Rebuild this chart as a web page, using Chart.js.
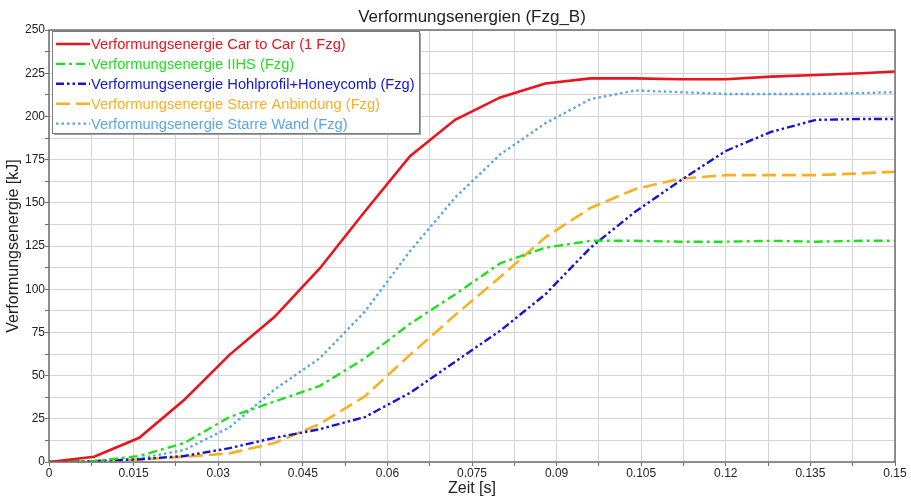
<!DOCTYPE html>
<html>
<head>
<meta charset="utf-8">
<script src="https://cdn.jsdelivr.net/npm/chart.js@4.4.1/dist/chart.umd.min.js"></script>
<style>
  html, body { margin: 0; padding: 0; background: #fff; }
  #wrap { width: 911px; height: 498px; }
</style>
</head>
<body>
<div id="wrap"><canvas id="energyChart" width="911" height="498"></canvas></div>
<script>
// Zeitpunkte [s]
const times = [0, 0.008, 0.016, 0.024, 0.032, 0.04, 0.048, 0.056, 0.064, 0.072, 0.08,
               0.088, 0.096, 0.104, 0.112, 0.12, 0.128, 0.136, 0.144, 0.15];

// Verformungsenergie [kJ]
const carToCar   = [0, 3, 14, 36, 62, 84, 112, 145, 177, 198, 211, 219, 222, 222, 221.5, 221.5, 223, 224, 225, 226];
const iihs       = [0, 0.5, 3.5, 11, 26, 35, 44, 60, 80, 97, 115, 124, 128, 128, 127.5, 127.5, 128, 127.5, 128, 128];
const hohlprofil = [0, 0.5, 1.5, 3.5, 8, 14, 19, 26, 40, 58, 76, 97, 124, 145, 163, 180, 191, 198, 198.5, 198.5];
const anbindung  = [0, 0.5, 1.5, 3, 5, 11, 22, 38, 62, 85, 107, 130, 147, 158, 164, 166, 166, 166, 167, 168];
const wand       = [0, 0.5, 2, 7, 20, 42, 60, 87, 122, 153, 178, 196, 210, 215, 214, 213, 213, 213, 213.5, 214];

const xTickLabels = ["0", "0.015", "0.03", "0.045", "0.06", "0.075", "0.09", "0.105", "0.12", "0.135", "0.15"];
const yTickLabels = ["0", "25", "50", "75", "100", "125", "150", "175", "200", "225", "250"];

const chartTitle = "Verformungsenergien (Fzg_B)";

const toPoints = arr => arr.map((v, i) => ({ x: times[i], y: v }));

const fontFam = "'Liberation Sans', Arial, sans-serif";

// Titel, zentriert über der Zeichenfläche
const plotTitle = {
  id: 'plotTitle',
  afterDraw(chart) {
    const { ctx, chartArea: a } = chart;
    ctx.save();
    ctx.font = "17px " + fontFam;
    ctx.fillStyle = '#222';
    ctx.textAlign = 'center';
    ctx.textBaseline = 'alphabetic';
    ctx.fillText(chartTitle, (a.left + a.right) / 2, 22);
    ctx.restore();
  }
};

// Legende innerhalb des Diagramms, oben links
const innerLegend = {
  id: 'innerLegend',
  afterDatasetsDraw(chart) {
    const ctx = chart.ctx;
    const area = chart.chartArea;
    const x0 = area.left + 3, y0 = area.top + 1, w = 367, h = 102;
    ctx.save();
    ctx.fillStyle = '#a0a0a0';
    ctx.fillRect(x0 + 2, y0 + 2, w, h);
    ctx.fillStyle = '#ffffff';
    ctx.fillRect(x0, y0, w, h);
    ctx.strokeStyle = '#7a7a7a';
    ctx.lineWidth = 1;
    ctx.strokeRect(x0 + 0.5, y0 + 0.5, w, h);
    ctx.font = "14.7px " + fontFam;
    ctx.textBaseline = 'middle';
    chart.data.datasets.forEach((ds, i) => {
      const y = y0 + 13 + i * 19.9;
      ctx.strokeStyle = ds.borderColor;
      ctx.lineWidth = ds.borderWidth;
      ctx.setLineDash(ds.borderDash || []);
      ctx.beginPath();
      ctx.moveTo(x0 + 4, y);
      ctx.lineTo(x0 + 38, y);
      ctx.stroke();
      ctx.setLineDash([]);
      ctx.fillStyle = ds.borderColor;
      ctx.fillText(ds.label, x0 + 39, y + 1);
    });
    ctx.restore();
  }
};

// Rahmen um die Zeichenfläche
const frame = {
  id: 'frame',
  afterDraw(chart) {
    const { ctx, chartArea: a } = chart;
    ctx.save();
    ctx.strokeStyle = '#6e6e6e';
    ctx.lineWidth = 1.5;
    ctx.strokeRect(a.left, a.top, a.right - a.left, a.bottom - a.top);
    ctx.restore();
  }
};

new Chart(document.getElementById("energyChart"), {
  type: 'line',
  data: {
    datasets: [
      {
        label: "Verformungsenergie Car to Car (1 Fzg)",
        data: toPoints(carToCar),
        borderColor: "#e8141e",
        borderWidth: 2.6,
        borderDash: []
      },
      {
        label: "Verformungsenergie IIHS (Fzg)",
        data: toPoints(iihs),
        borderColor: "#1fe01f",
        borderWidth: 2.4,
        borderDash: [9, 4, 3, 4]
      },
      {
        label: "Verformungsenergie Hohlprofil+Honeycomb (Fzg)",
        data: toPoints(hohlprofil),
        borderColor: "#1414d2",
        borderWidth: 2.4,
        borderDash: [8, 3, 2.5, 3, 2.5, 3]
      },
      {
        label: "Verformungsenergie Starre Anbindung (Fzg)",
        data: toPoints(anbindung),
        borderColor: "#f8b020",
        borderWidth: 2.6,
        borderDash: [14, 6]
      },
      {
        label: "Verformungsenergie Starre Wand (Fzg)",
        data: toPoints(wand),
        borderColor: "#5aa6e2",
        borderWidth: 2.4,
        borderDash: [2.5, 3]
      }
    ]
  },
  options: {
    responsive: false,
    animation: false,
    layout: { padding: { left: 0, right: 16, top: 30, bottom: 0 } },
    elements: {
      point: { radius: 0 },
      line: { tension: 0, fill: false }
    },
    plugins: {
      legend: { display: false },
      tooltip: { enabled: false },
      title: { display: false }
    },
    scales: {
      x: {
        type: 'linear',
        min: 0,
        max: 0.15,
        afterBuildTicks(scale) {
          scale.ticks = [];
          for (let i = 0; i <= 20; i++) scale.ticks.push({ value: i * 0.0075 });
        },
        afterFit(scale) { scale.height = 36; },
        ticks: {
          autoSkip: false,
          maxRotation: 0,
          color: "#222",
          padding: 0,
          font: { family: fontFam, size: 12 },
          callback: (v, i) => (i % 2 === 0 ? xTickLabels[i / 2] : '')
        },
        grid: { color: "#d4d4d4", lineWidth: 1, tickLength: 4, tickColor: "#6e6e6e" },
        border: { display: false },
        title: {
          display: true,
          text: "Zeit [s]",
          color: "#222",
          font: { family: fontFam, size: 16 },
          padding: { top: 0, bottom: 0 }
        }
      },
      y: {
        min: 0,
        max: 250,
        afterBuildTicks(scale) {
          scale.ticks = [];
          for (let i = 0; i <= 20; i++) scale.ticks.push({ value: i * 12.5 });
        },
        afterFit(scale) { scale.width = 49; },
        ticks: {
          autoSkip: false,
          color: "#222",
          padding: 0,
          font: { family: fontFam, size: 12 },
          callback: (v, i) => (i % 2 === 0 ? yTickLabels[i / 2] : '')
        },
        grid: { color: "#d4d4d4", lineWidth: 1, tickLength: 4, tickColor: "#6e6e6e" },
        border: { display: false },
        title: {
          display: true,
          text: "Verformungsenergie [kJ]",
          color: "#222",
          font: { family: fontFam, size: 16 },
          padding: { top: 4, bottom: 0 }
        }
      }
    }
  },
  plugins: [innerLegend, frame, plotTitle]
});
</script>
</body>
</html>
